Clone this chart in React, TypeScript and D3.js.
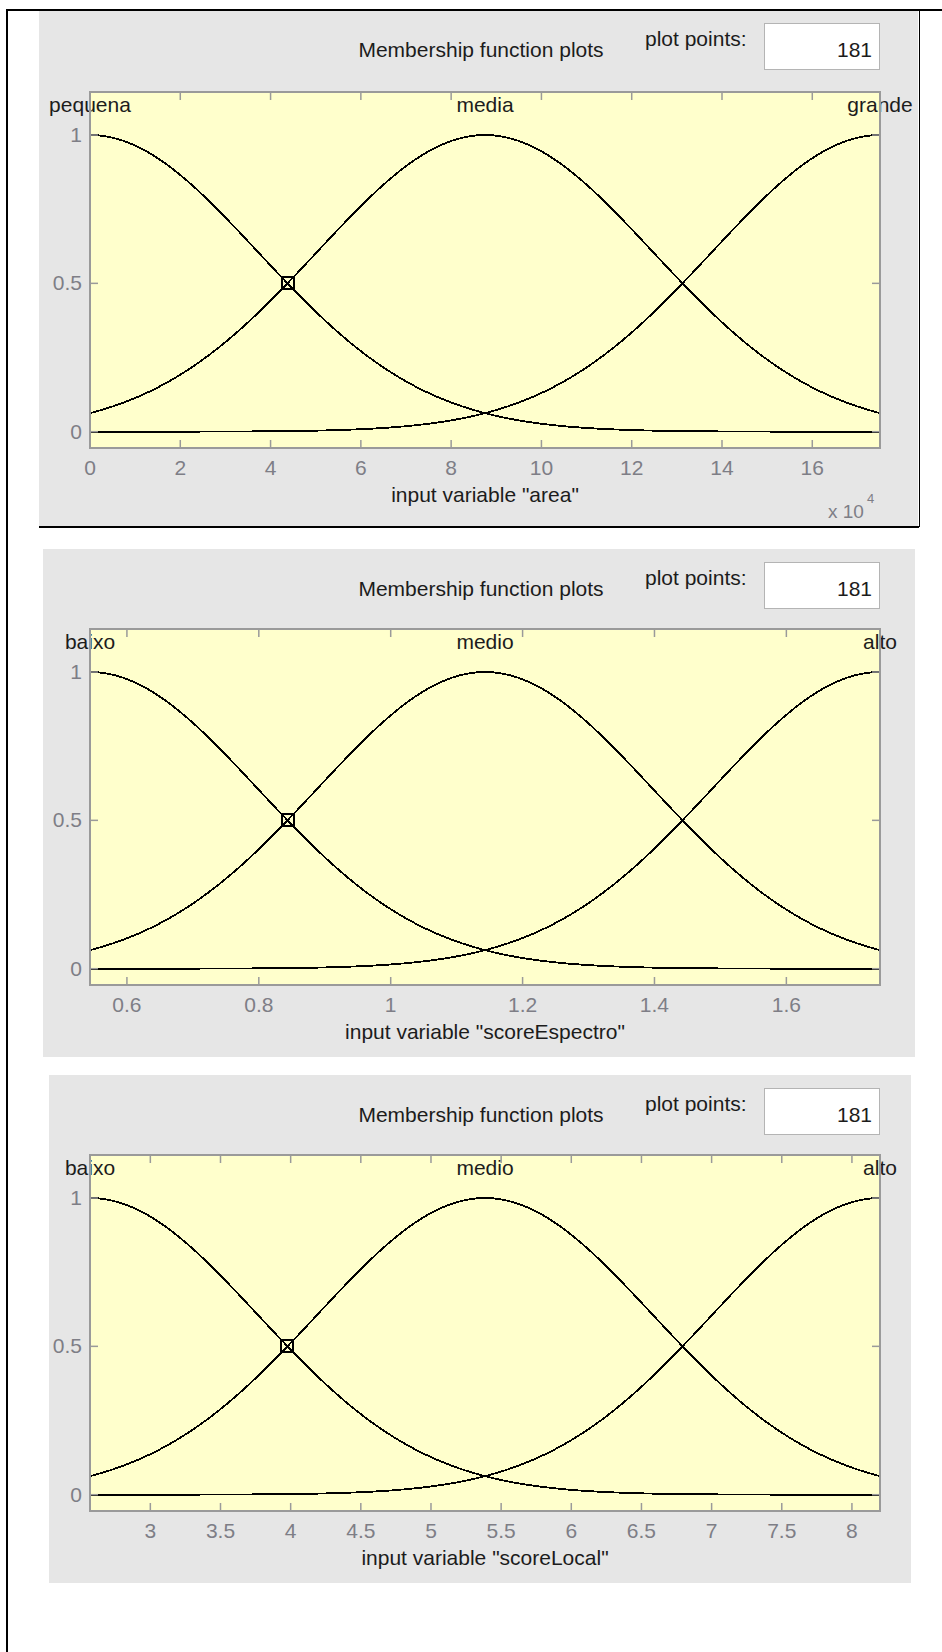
import React from "react";
import * as d3 from "d3";

// Fuzzy input variables: Gaussian membership functions (gaussmf: sigma, center)
const PLOT_POINTS = 181;
const mfYDomain: [number, number] = [-0.055, 1.145];
const mfYTicks = [0, 0.5, 1];
const mfYTickLabels = ["0", "0.5", "1"];

// input "area"
const areaRange: [number, number] = [0, 175000];
const areaNames = ["pequena", "media", "grande"];
const areaCenters = [0, 87500, 175000];
const areaSigmas = [37160, 37160, 37160];
const areaTicks = [0, 20000, 40000, 60000, 80000, 100000, 120000, 140000, 160000];
const areaTickLabels = ["0", "2", "4", "6", "8", "10", "12", "14", "16"];

// input "scoreEspectro"
const espRange: [number, number] = [0.544, 1.742];
const espNames = ["baixo", "medio", "alto"];
const espCenters = [0.544, 1.143, 1.742];
const espSigmas = [0.2544, 0.2544, 0.2544];
const espTicks = [0.6, 0.8, 1, 1.2, 1.4, 1.6];
const espTickLabels = ["0.6", "0.8", "1", "1.2", "1.4", "1.6"];

// input "scoreLocal"
const locRange: [number, number] = [2.57, 8.2];
const locNames = ["baixo", "medio", "alto"];
const locCenters = [2.57, 5.385, 8.2];
const locSigmas = [1.1954, 1.1954, 1.1954];
const locTicks = [3, 3.5, 4, 4.5, 5, 5.5, 6, 6.5, 7, 7.5, 8];
const locTickLabels = ["3", "3.5", "4", "4.5", "5", "5.5", "6", "6.5", "7", "7.5", "8"];

const FONT = "'Liberation Sans', Arial, Helvetica, sans-serif";
const FS = 21;
const PANEL_BG = "#e6e6e6";
const AXES_BG = "#ffffcc";
const AXES_EDGE = "#9a9a9a";
const TEXT = "#1c1c1c";
const TICK_TEXT = "#7e7e86";
const AXES_H = 356;
const TICK_LEN = 8;

const gaussmf = (v: number, sigma: number, c: number) =>
  Math.exp(-((v - c) * (v - c)) / (2 * sigma * sigma));

type Frame = { gx0: number; gx1: number; gy0: number; gy1: number; ax0: number; ax1: number; ay0: number };

function MFPanel(props: {
  variable: string;
  range: [number, number];
  names: string[];
  centers: number[];
  sigmas: number[];
  ticks: number[];
  tickLabels: string[];
  exponent?: string;
  frame: Frame;
}) {
  const { variable, range, names, centers, sigmas, ticks, tickLabels, exponent, frame } = props;
  const { gx0, gx1, gy0, gy1, ax0, ax1, ay0 } = frame;
  const ay1 = ay0 + AXES_H;
  const x = d3.scaleLinear().domain(range).range([ax0, ax1]);
  const y = d3.scaleLinear().domain(mfYDomain).range([ay1, ay0]);
  const samples = d3
    .range(PLOT_POINTS)
    .map((i) => range[0] + (i * (range[1] - range[0])) / (PLOT_POINTS - 1));
  const line = d3
    .line<[number, number]>()
    .x((d) => x(d[0]))
    .y((d) => y(d[1]));
  const curves = names.map((_, k) =>
    line(samples.map((v) => [v, gaussmf(v, sigmas[k], centers[k])] as [number, number]))
  );
  // selected handle: half-height point of the first membership function
  const halfX = centers[0] + sigmas[0] * Math.sqrt(2 * Math.log(2));
  const hx = Math.round(x(halfX));
  const hy = Math.round(y(0.5));
  const cx = (ax0 + ax1) / 2;

  return (
    <g>
      <rect x={gx0} y={gy0} width={gx1 - gx0} height={gy1 - gy0} fill={PANEL_BG} />
      <text x={481} y={gy0 + 47} textAnchor="middle" fontFamily={FONT} fontSize={FS} fill={TEXT}>
        Membership function plots
      </text>
      <text x={645} y={gy0 + 36} fontFamily={FONT} fontSize={FS} fill={TEXT}>
        plot points:
      </text>
      <rect x={764.5} y={gy0 + 13.5} width={115} height={46} fill="#ffffff" stroke="#b4b4b4" strokeWidth={1} />
      <text x={872} y={gy0 + 47} textAnchor="end" fontFamily={FONT} fontSize={FS} fill={TEXT}>
        {String(PLOT_POINTS)}
      </text>

      <rect x={ax0} y={ay0} width={ax1 - ax0} height={AXES_H} fill={AXES_BG} />
      {curves.map((d, k) => (
        <path key={k} d={d || ""} fill="none" stroke="#000" strokeWidth={1.8} shapeRendering="crispEdges" />
      ))}
      <g stroke="#000" fill="none" shapeRendering="crispEdges">
        <rect x={hx - 6} y={hy - 6} width={12} height={12} strokeWidth={2} />
        <line x1={hx - 5} y1={hy - 5} x2={hx + 5} y2={hy + 5} strokeWidth={1} />
        <line x1={hx - 5} y1={hy + 5} x2={hx + 5} y2={hy - 5} strokeWidth={1} />
      </g>

      {names.map((n, k) => (
        <text key={n + k} x={x(centers[k])} y={y(1) - 23} textAnchor="middle" fontFamily={FONT} fontSize={FS} fill={TEXT}>
          {n}
        </text>
      ))}

      <g stroke={AXES_EDGE} strokeWidth={1.5}>
        {ticks.map((t, i) => (
          <g key={"xt" + i}>
            <line x1={x(t)} x2={x(t)} y1={ay1} y2={ay1 - TICK_LEN} />
            <line x1={x(t)} x2={x(t)} y1={ay0} y2={ay0 + TICK_LEN} />
          </g>
        ))}
        {mfYTicks.map((t, i) => (
          <g key={"yt" + i}>
            <line x1={ax0} x2={ax0 + TICK_LEN} y1={y(t)} y2={y(t)} />
            <line x1={ax1} x2={ax1 - TICK_LEN} y1={y(t)} y2={y(t)} />
          </g>
        ))}
      </g>
      <rect x={ax0} y={ay0} width={ax1 - ax0} height={AXES_H} fill="none" stroke={AXES_EDGE} strokeWidth={2} />

      {ticks.map((t, i) => (
        <text key={"xl" + i} x={x(t)} y={ay1 + 27} textAnchor="middle" fontFamily={FONT} fontSize={FS} fill={TICK_TEXT}>
          {tickLabels[i]}
        </text>
      ))}
      {mfYTicks.map((t, i) => (
        <text key={"yl" + i} x={ax0 - 8} y={y(t) + 7} textAnchor="end" fontFamily={FONT} fontSize={FS} fill={TICK_TEXT}>
          {mfYTickLabels[i]}
        </text>
      ))}
      <text x={cx} y={ay1 + 54} textAnchor="middle" fontFamily={FONT} fontSize={FS} fill={TEXT}>
        {`input variable "${variable}"`}
      </text>
      {exponent && (
        <g fill={TICK_TEXT} fontFamily={FONT}>
          <text x={828} y={ay1 + 70} fontSize={19}>
            x 10
          </text>
          <text x={867} y={ay1 + 55} fontSize={13}>
            {exponent}
          </text>
        </g>
      )}
    </g>
  );
}

export default function App() {
  return (
    <svg
      width={942}
      height={1652}
      style={{ position: "absolute", left: 0, top: 0, background: "#ffffff" }}
    >
      <rect x={0} y={0} width={942} height={1652} fill="#ffffff" />
      <MFPanel
        variable="area"
        range={areaRange}
        names={areaNames}
        centers={areaCenters}
        sigmas={areaSigmas}
        ticks={areaTicks}
        tickLabels={areaTickLabels}
        exponent="4"
        frame={{ gx0: 39, gx1: 918, gy0: 10, gy1: 527, ax0: 90, ax1: 880, ay0: 92 }}
      />
      <MFPanel
        variable="scoreEspectro"
        range={espRange}
        names={espNames}
        centers={espCenters}
        sigmas={espSigmas}
        ticks={espTicks}
        tickLabels={espTickLabels}
        frame={{ gx0: 43, gx1: 915, gy0: 549, gy1: 1057, ax0: 90, ax1: 880, ay0: 629 }}
      />
      <MFPanel
        variable="scoreLocal"
        range={locRange}
        names={locNames}
        centers={locCenters}
        sigmas={locSigmas}
        ticks={locTicks}
        tickLabels={locTickLabels}
        frame={{ gx0: 49, gx1: 911, gy0: 1075, gy1: 1583, ax0: 90, ax1: 880, ay0: 1155 }}
      />
      {/* page frame lines */}
      <g stroke="#000" shapeRendering="crispEdges">
        <line x1={7} x2={7} y1={9} y2={1652} strokeWidth={2} />
        <line x1={6} x2={942} y1={10} y2={10} strokeWidth={2} />
        <line x1={39} x2={919} y1={527} y2={527} strokeWidth={2} />
        <line x1={919} x2={919} y1={10} y2={527} strokeWidth={1} />
      </g>
    </svg>
  );
}
